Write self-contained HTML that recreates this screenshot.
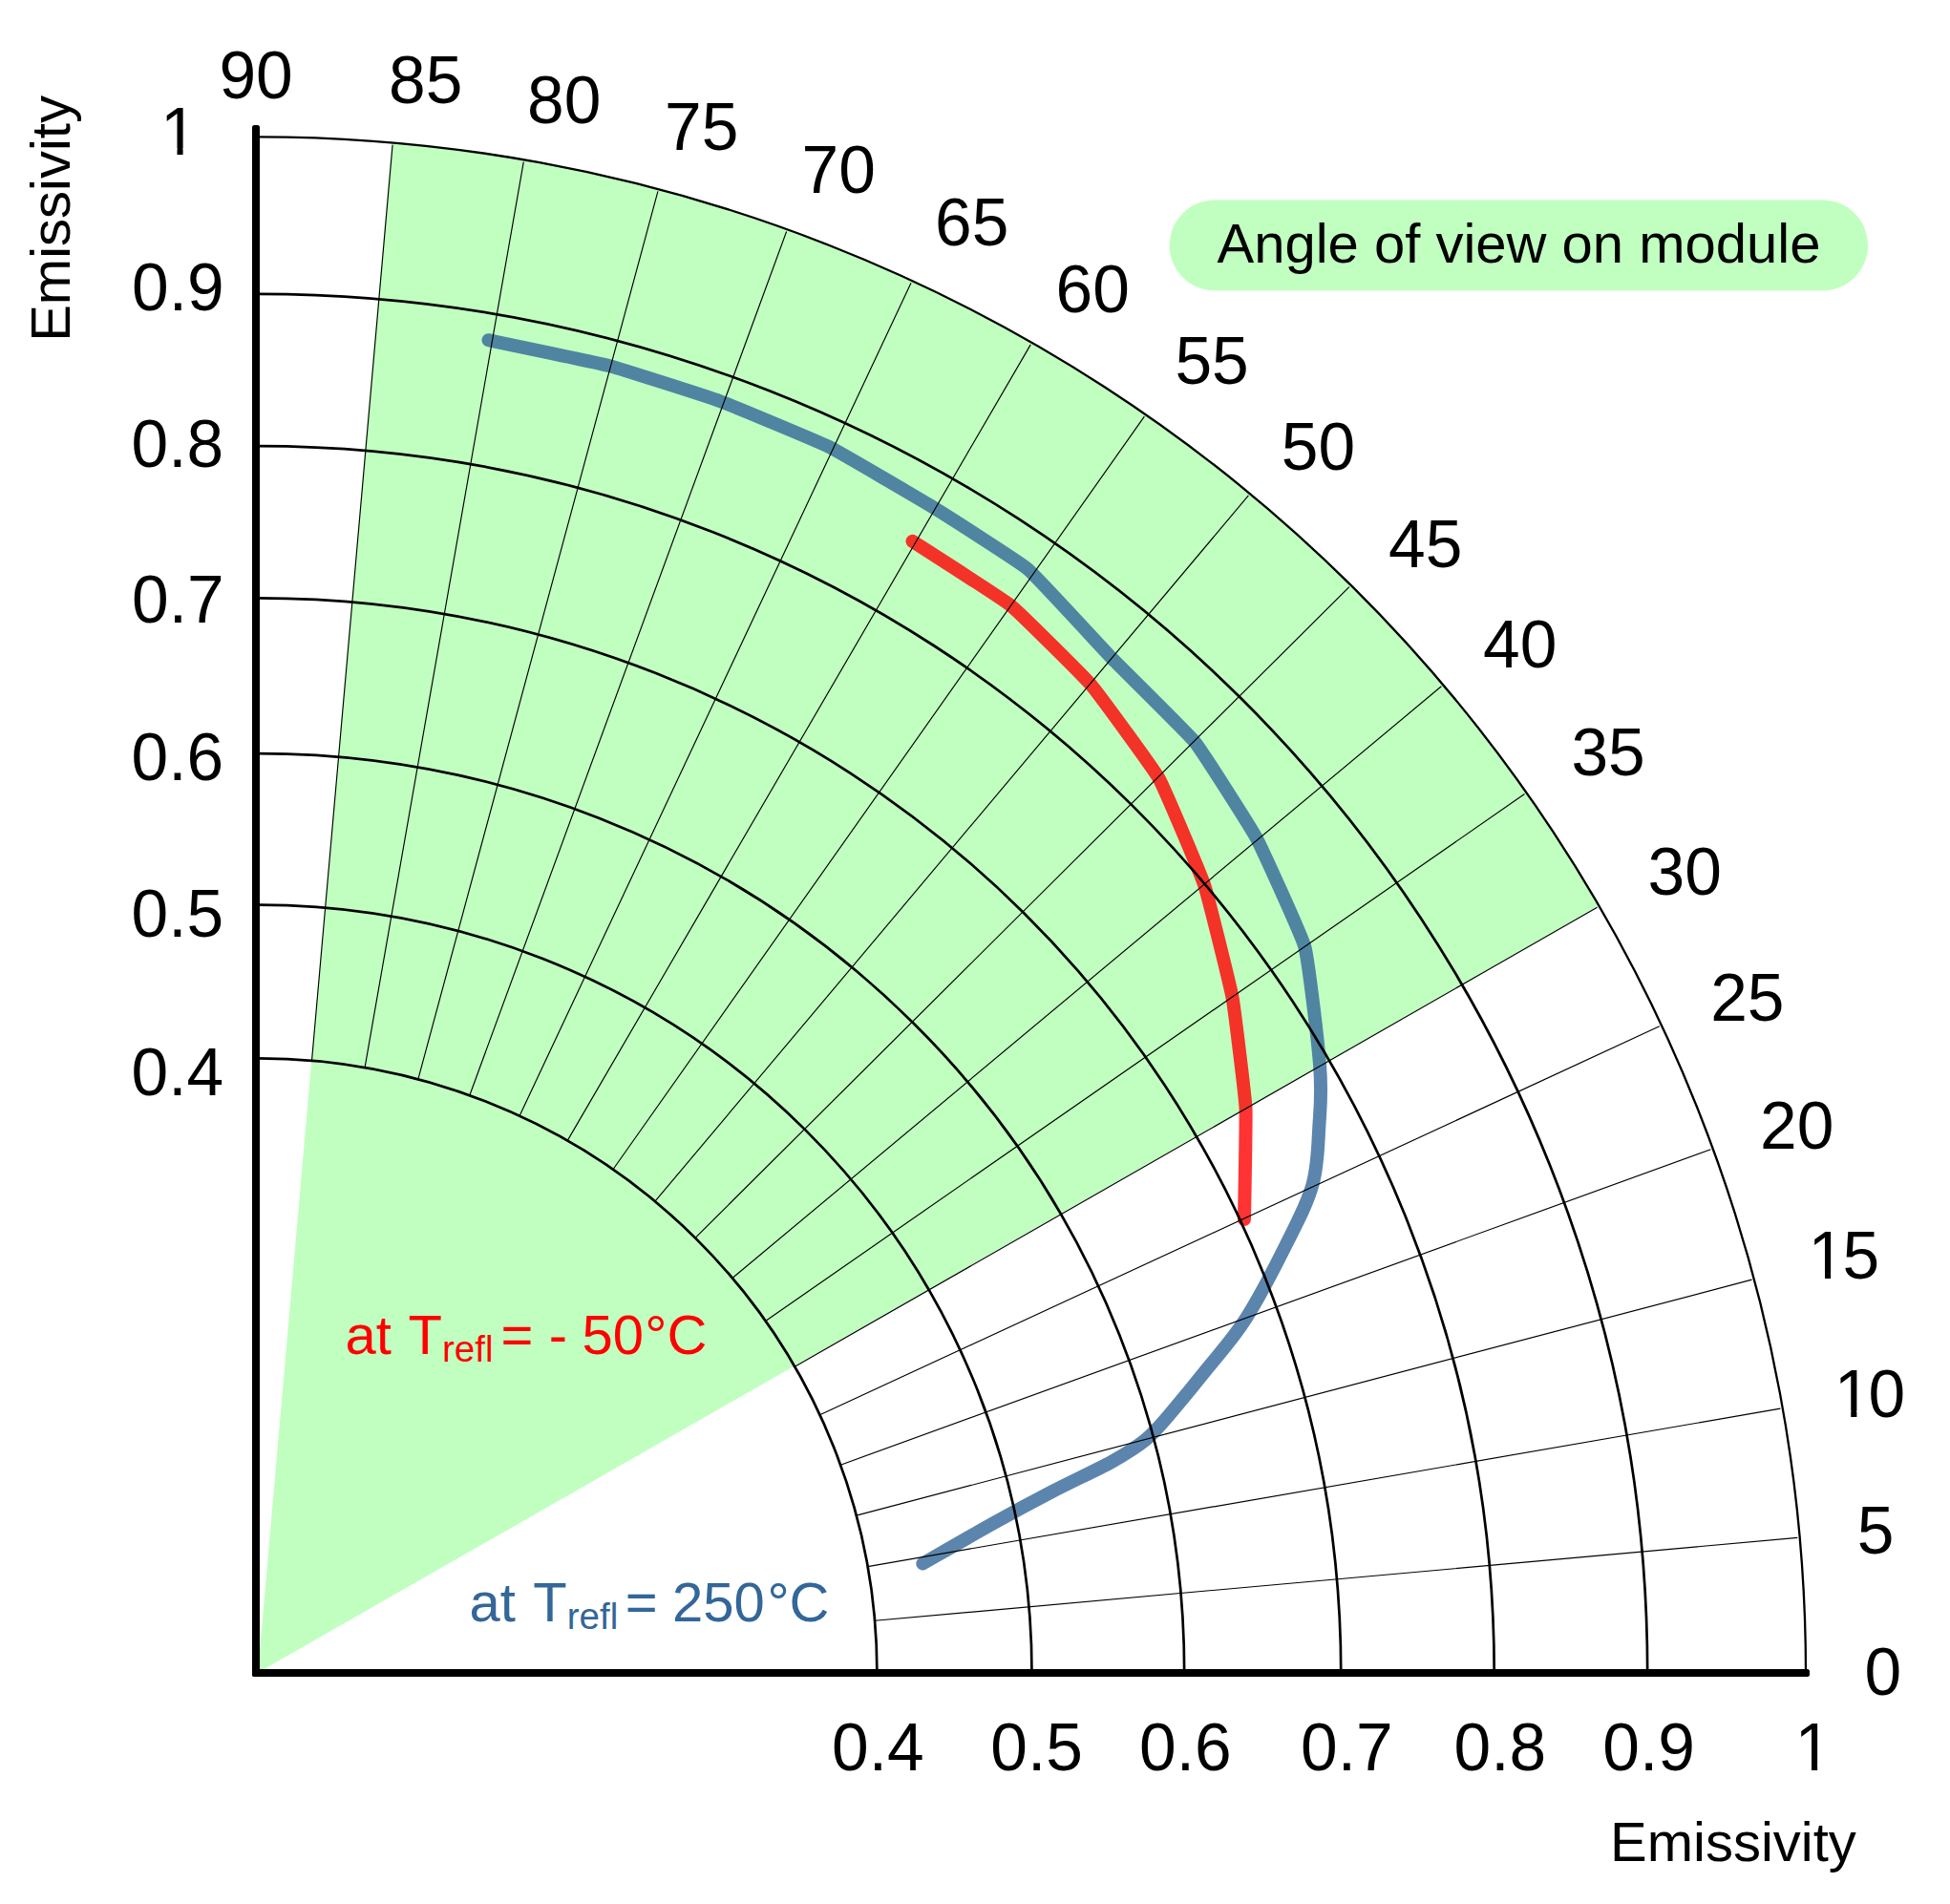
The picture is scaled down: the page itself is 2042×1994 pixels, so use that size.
<!DOCTYPE html>
<html lang="en">
<head>
<meta charset="utf-8">
<title>Emissivity versus angle of view on module</title>
<style>
html,body{margin:0;padding:0;background:#fff;}
body{width:2042px;height:1994px;overflow:hidden;font-family:"Liberation Sans", Arial, Helvetica, sans-serif;}
svg text{white-space:pre;}
</style>
</head>
<body>
<svg width="2042" height="1994" viewBox="0 0 2042 1994" font-family='"Liberation Sans", Arial, Helvetica, sans-serif' style="display:block">
<path d="M270 1751.8 L1674.53 948.77 A1621 1608.5 0 0 0 410.43 149.35 Z" fill="#c1ffc1"/>
<defs><clipPath id="inW"><path d="M270 1751.8 L1674.53 948.77 A1621 1608.5 0 0 0 410.43 149.35 Z"/></clipPath><clipPath id="outW"><path clip-rule="evenodd" d="M0 0H2042 V1994 H0Z M270 1751.8 L1674.53 948.77 A1621 1608.5 0 0 0 410.43 149.35 Z"/></clipPath></defs>
<g clip-path="url(#outW)"><path d="M511.5 356.2 C517.8 357.54 625.47 379.8 637.6 383 C649.74 386.2 742.67 415.94 754.2 420.2 C765.74 424.45 857.11 462.52 868.3 468.1 C879.49 473.68 967.6 525.4 978 531.8 C988.4 538.19 1066.99 588.13 1076.3 596 C1085.61 603.87 1155.34 680.04 1164.1 689.1 C1172.86 698.16 1243.81 767.84 1251.4 777.3 C1259 786.75 1310.26 867.49 1316 878.2 C1321.74 888.91 1363 979.66 1366.3 991.5 C1369.6 1003.34 1379.5 1083.58 1382 1115 C1384.5 1146.42 1382.55 1159.08 1381.3 1180 C1380.05 1200.92 1380.13 1220.17 1374.5 1240.5 C1368.87 1260.83 1359.15 1278.58 1347.5 1302 C1335.85 1325.42 1318.67 1358.9 1304.6 1381 C1290.53 1403.1 1276.43 1417.85 1263.1 1434.6 C1249.77 1451.35 1233.87 1470.52 1224.6 1481.5 C1215.33 1492.48 1212.63 1495.37 1207.5 1500.5 C1202.37 1505.63 1201.2 1507.13 1193.8 1512.3 C1186.4 1517.47 1178.48 1523.17 1163.1 1531.5 C1147.72 1539.83 1122.02 1551.65 1101.5 1562.3 C1080.98 1572.95 1062.53 1582.87 1040 1595.4 C1017.47 1607.93 978.58 1630.48 966.3 1637.5" stroke="#5c85ad" fill="none" stroke-width="14" stroke-linecap="round" stroke-linejoin="round"/><path d="M955.5 566.8 C960.62 570.15 1048.64 626.26 1058 633.8 C1067.36 641.33 1134.92 708.43 1142.7 717.5 C1150.48 726.57 1207.67 804.73 1213.6 815.2 C1219.52 825.68 1257.36 915.53 1261.2 927 C1265.05 938.47 1288.34 1032.85 1290.5 1044.5 C1292.66 1056.15 1303.88 1148.38 1304.5 1160 C1305.12 1171.62 1303.08 1271.15 1303 1277" stroke="#ff3333" fill="none" stroke-width="14" stroke-linecap="round" stroke-linejoin="round"/></g>
<g clip-path="url(#inW)"><path d="M511.5 356.2 C517.8 357.54 625.47 379.8 637.6 383 C649.74 386.2 742.67 415.94 754.2 420.2 C765.74 424.45 857.11 462.52 868.3 468.1 C879.49 473.68 967.6 525.4 978 531.8 C988.4 538.19 1066.99 588.13 1076.3 596 C1085.61 603.87 1155.34 680.04 1164.1 689.1 C1172.86 698.16 1243.81 767.84 1251.4 777.3 C1259 786.75 1310.26 867.49 1316 878.2 C1321.74 888.91 1363 979.66 1366.3 991.5 C1369.6 1003.34 1379.5 1083.58 1382 1115 C1384.5 1146.42 1382.55 1159.08 1381.3 1180 C1380.05 1200.92 1380.13 1220.17 1374.5 1240.5 C1368.87 1260.83 1359.15 1278.58 1347.5 1302 C1335.85 1325.42 1318.67 1358.9 1304.6 1381 C1290.53 1403.1 1276.43 1417.85 1263.1 1434.6 C1249.77 1451.35 1233.87 1470.52 1224.6 1481.5 C1215.33 1492.48 1212.63 1495.37 1207.5 1500.5 C1202.37 1505.63 1201.2 1507.13 1193.8 1512.3 C1186.4 1517.47 1178.48 1523.17 1163.1 1531.5 C1147.72 1539.83 1122.02 1551.65 1101.5 1562.3 C1080.98 1572.95 1062.53 1582.87 1040 1595.4 C1017.47 1607.93 978.58 1630.48 966.3 1637.5" stroke="#4f85a1" fill="none" stroke-width="14" stroke-linecap="round" stroke-linejoin="round"/><path d="M955.5 566.8 C960.62 570.15 1048.64 626.26 1058 633.8 C1067.36 641.33 1134.92 708.43 1142.7 717.5 C1150.48 726.57 1207.67 804.73 1213.6 815.2 C1219.52 825.68 1257.36 915.53 1261.2 927 C1265.05 938.47 1288.34 1032.85 1290.5 1044.5 C1292.66 1056.15 1303.88 1148.38 1304.5 1160 C1305.12 1171.62 1303.08 1271.15 1303 1277" stroke="#f33327" fill="none" stroke-width="14" stroke-linecap="round" stroke-linejoin="round"/></g>
<path d="M916.07 1697.29 L1882.29 1610.42 M908.65 1640.63 L1864.37 1475.11 M896.8 1587.12 L1834.51 1340.18 M880.18 1534.17 L1791.44 1203.8 M858.51 1481.72 L1737.76 1074.82 M832.27 1431.37 L1672.57 950.21 M801.59 1383.41 L1596.5 831.5 M766.92 1338.49 L1509.35 718.78 M728.09 1296.45 L1412.9 614.54 M685.92 1258.21 L1307.36 518.95 M641.91 1224.76 L1198.37 436.17 M594.2 1194.6 L1079.28 360.89 M544.03 1168.68 L954.04 296.19 M491.77 1147.2 L823.58 242.57 M437.82 1130.32 L688.92 200.44 M382.04 1118.08 L548.28 169.63 M326.51 1110.85 L411.07 151.82" fill="none" stroke="#000" stroke-width="1.15"/>
<path d="M918.4 1751.8 A648.4 643.4 0 0 0 270 1108.4 M1080.5 1751.8 A810.5 804.25 0 0 0 270 947.55 M1240.17 1751.8 A970.17 962.69 0 0 0 270 789.11 M1404.21 1751.8 A1134.21 1125.47 0 0 0 270 626.33 M1564.69 1751.8 A1294.69 1284.71 0 0 0 270 467.09 M1725.17 1751.8 A1455.17 1443.95 0 0 0 270 307.85" fill="none" stroke="#000" stroke-width="2.7"/>
<path d="M1891 1751.8 A1621 1608.5 0 0 0 270 143.3" fill="none" stroke="#000" stroke-width="2.3"/>
<rect x="264" y="131" width="8" height="1625" rx="2.5" fill="#000"/>
<rect x="264" y="1748" width="1631" height="8" rx="2.5" fill="#000"/>
<rect x="1224.6" y="209.5" width="731.5" height="94.8" rx="47.4" ry="47.4" fill="#c1ffc1"/>
<text x="229.4" y="103.2" font-size="69.5" fill="#000">90</text>
<text x="407" y="108.1" font-size="69.5" fill="#000">85</text>
<text x="552" y="129" font-size="69.5" fill="#000">80</text>
<text x="696" y="156.9" font-size="69.5" fill="#000">75</text>
<text x="839.5" y="202.3" font-size="69.5" fill="#000">70</text>
<text x="979" y="257.4" font-size="69.5" fill="#000">65</text>
<text x="1105.5" y="326.5" font-size="69.5" fill="#000">60</text>
<text x="1230.4" y="401.5" font-size="69.5" fill="#000">55</text>
<text x="1341.8" y="492" font-size="69.5" fill="#000">50</text>
<text x="1454" y="594" font-size="69.5" fill="#000">45</text>
<text x="1553" y="699" font-size="69.5" fill="#000">40</text>
<text x="1645.4" y="811.5" font-size="69.5" fill="#000">35</text>
<text x="1725.5" y="936.5" font-size="69.5" fill="#000">30</text>
<text x="1791.2" y="1069" font-size="69.5" fill="#000">25</text>
<text x="1843" y="1202.9" font-size="69.5" fill="#000">20</text>
<text x="1890.8" y="1339.1" font-size="69.5" fill="#000"><tspan x="1893.6">1</tspan><tspan x="1929.4">5</tspan></text>
<text x="1918" y="1483.6" font-size="69.5" fill="#000"><tspan x="1920.8">1</tspan><tspan x="1956.6">0</tspan></text>
<text x="1944.7" y="1627" font-size="69.5" fill="#000">5</text>
<text x="1952.4" y="1774.7" font-size="69.5" fill="#000">0</text>
<text x="168.1" y="161.6" font-size="69.5" fill="#000">1</text>
<text x="138.1" y="325.4" font-size="69.5" fill="#000">0.9</text>
<text x="137.6" y="488.6" font-size="69.5" fill="#000">0.8</text>
<text x="138.1" y="652.4" font-size="69.5" fill="#000">0.7</text>
<text x="137.6" y="817.4" font-size="69.5" fill="#000">0.6</text>
<text x="137.6" y="981.3" font-size="69.5" fill="#000">0.5</text>
<text x="137.6" y="1146.5" font-size="69.5" fill="#000">0.4</text>
<text x="871" y="1853.5" font-size="69.5" fill="#000">0.4</text>
<text x="1037.3" y="1854" font-size="69.5" fill="#000">0.5</text>
<text x="1193.1" y="1853.5" font-size="69.5" fill="#000">0.6</text>
<text x="1362.1" y="1853.5" font-size="69.5" fill="#000">0.7</text>
<text x="1522.6" y="1854" font-size="69.5" fill="#000">0.8</text>
<text x="1678.3" y="1854" font-size="69.5" fill="#000">0.9</text>
<text x="1879.4" y="1854" font-size="69.5" fill="#000">1</text>
<text x="1686" y="1948.9" font-size="58" fill="#000">Emissivity</text>
<text x="73.2" y="357.8" font-size="58" fill="#000" transform="rotate(-90 73.2 357.8)">Emissivity</text>
<text x="1274.5" y="275.2" font-size="58" fill="#000">Angle of view on module</text>
<text font-size="58" fill="#ff0000"><tspan x="361.4" y="1418">at </tspan><tspan x="427.6" y="1418">T<tspan font-size="38.5" dy="7.6">refl</tspan><tspan dy="-7.6"> </tspan></tspan><tspan x="524.5" y="1418">= </tspan><tspan x="574.8" y="1418">- </tspan><tspan x="609.6" y="1418">50</tspan><tspan x="675.3" y="1418">°C</tspan></text>
<text font-size="58" fill="#336699"><tspan x="491.6" y="1698">at </tspan><tspan x="558.3" y="1698">T<tspan font-size="38.5" dy="7.6">refl</tspan><tspan dy="-7.6"> </tspan></tspan><tspan x="654.8" y="1698">= </tspan><tspan x="704.1" y="1698">250</tspan><tspan x="803.4" y="1698">°C</tspan></text>
<rect x="1897" y="1332.4" width="13.98" height="8.6" fill="#fff"/>
<rect x="1917.12" y="1332.4" width="13.88" height="8.6" fill="#fff"/>
<rect x="1924" y="1477.4" width="14.25" height="8.6" fill="#fff"/>
<rect x="1944.37" y="1477.4" width="13.63" height="8.6" fill="#fff"/>
<rect x="171" y="155.4" width="14.5" height="8.6" fill="#fff"/>
<rect x="191.61" y="155.4" width="13.39" height="8.6" fill="#fff"/>
<rect x="1883" y="1847.4" width="13.98" height="8.6" fill="#fff"/>
<rect x="1903.12" y="1847.4" width="13.88" height="8.6" fill="#fff"/>
</svg>
</body>
</html>
